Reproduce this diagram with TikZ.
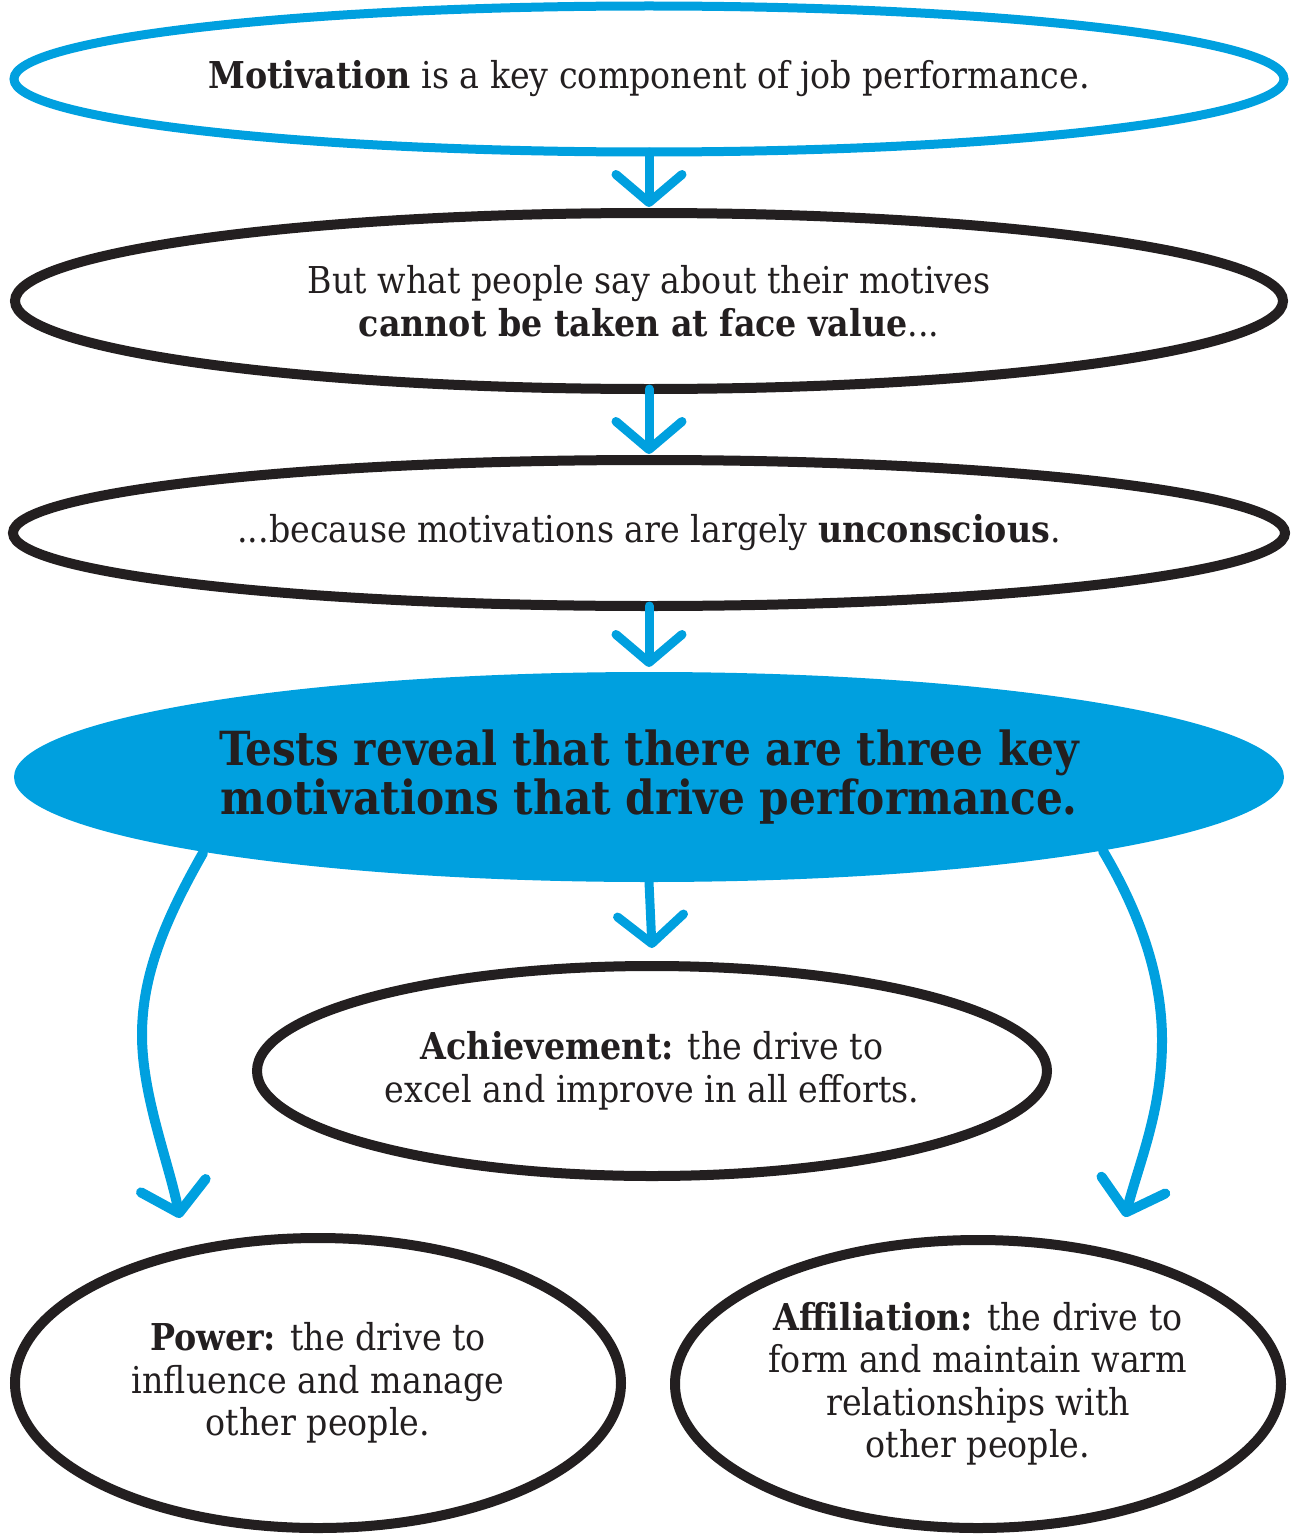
\documentclass[tikz,border=0pt]{standalone}
\usepackage{fontspec}
\setmainfont{DejaVu Serif Condensed}
\usetikzlibrary{shapes.geometric,arrows.meta}
\definecolor{sky}{RGB}{0,160,223}
\definecolor{ink}{RGB}{35,31,32}
\begin{document}
\begin{tikzpicture}[x=1pt,y=-1pt,
  bubble/.style={ellipse, draw=ink, line width=10pt, inner sep=0pt, outer sep=0pt,
    align=center, text=ink, font=\fontsize{37}{42.5}\selectfont},
  conn/.style={draw=sky, line width=9pt, line cap=round, line join=round,
    -{Straight Barb[length=28pt,width=66pt,round]}},
]
\useasboundingbox (0,0) rectangle (1298,1536);

% chain of statements
\node[bubble, draw=sky, line width=9pt, minimum width=1270pt, minimum height=146pt] (mot) at (649,79)
  {\textbf{Motivation} is a key component of job performance.};
\node[bubble, minimum width=1268pt, minimum height=176pt] (face) at (649,301)
  {But what people say about their motives\\\textbf{cannot be taken at face value}...};
\node[bubble, minimum width=1272pt, minimum height=146pt] (unc) at (649,533)
  {...because motivations are largely \textbf{unconscious}.};
\node[bubble, draw=none, fill=sky, minimum width=1270pt, minimum height=210pt,
  font=\fontsize{47}{49}\selectfont\bfseries] (tests) at (649,777)
  {Tests reveal that there are three key\\motivations that drive performance.};

% the three motivations
\node[bubble, minimum width=790pt, minimum height=210pt] (ach) at (652,1071)
  {\textbf{Achievement:} the drive to\\excel and improve in all efforts.};
\node[bubble, minimum width=606pt, minimum height=290pt] (pow) at (318,1383)
  {\textbf{Power:} the drive to\\influence and manage\\other people.};
\node[bubble, minimum width=606pt, minimum height=288pt] (aff) at (978,1384)
  {\textbf{Affiliation:} the drive to\\form and maintain warm\\relationships with\\other people.};

% arrow ends above the lower bubbles
\coordinate (powin) at (180,1218);
\coordinate (affin) at (1125,1217);

% connectors
\draw[conn] (mot.south) -- ([yshift=6pt]face.north);
\draw[conn] (face.south) -- ([yshift=6pt]unc.north);
\draw[conn] (unc.south) -- ([yshift=5pt]tests.north);
\draw[conn] (tests.south) -- ([yshift=18pt]ach.north);
\draw[conn, line width=10pt] ([shift={(-446,76)}]tests.center)
  .. controls (165,920) and (142,975) .. (142,1035)
  .. controls (142,1095) and (168,1160) .. (powin);
\draw[conn, line width=10pt] ([shift={(454,74)}]tests.center)
  .. controls (1135,905) and (1162,970) .. (1162,1040)
  .. controls (1162,1110) and (1140,1160) .. (affin);
\end{tikzpicture}
\end{document}
